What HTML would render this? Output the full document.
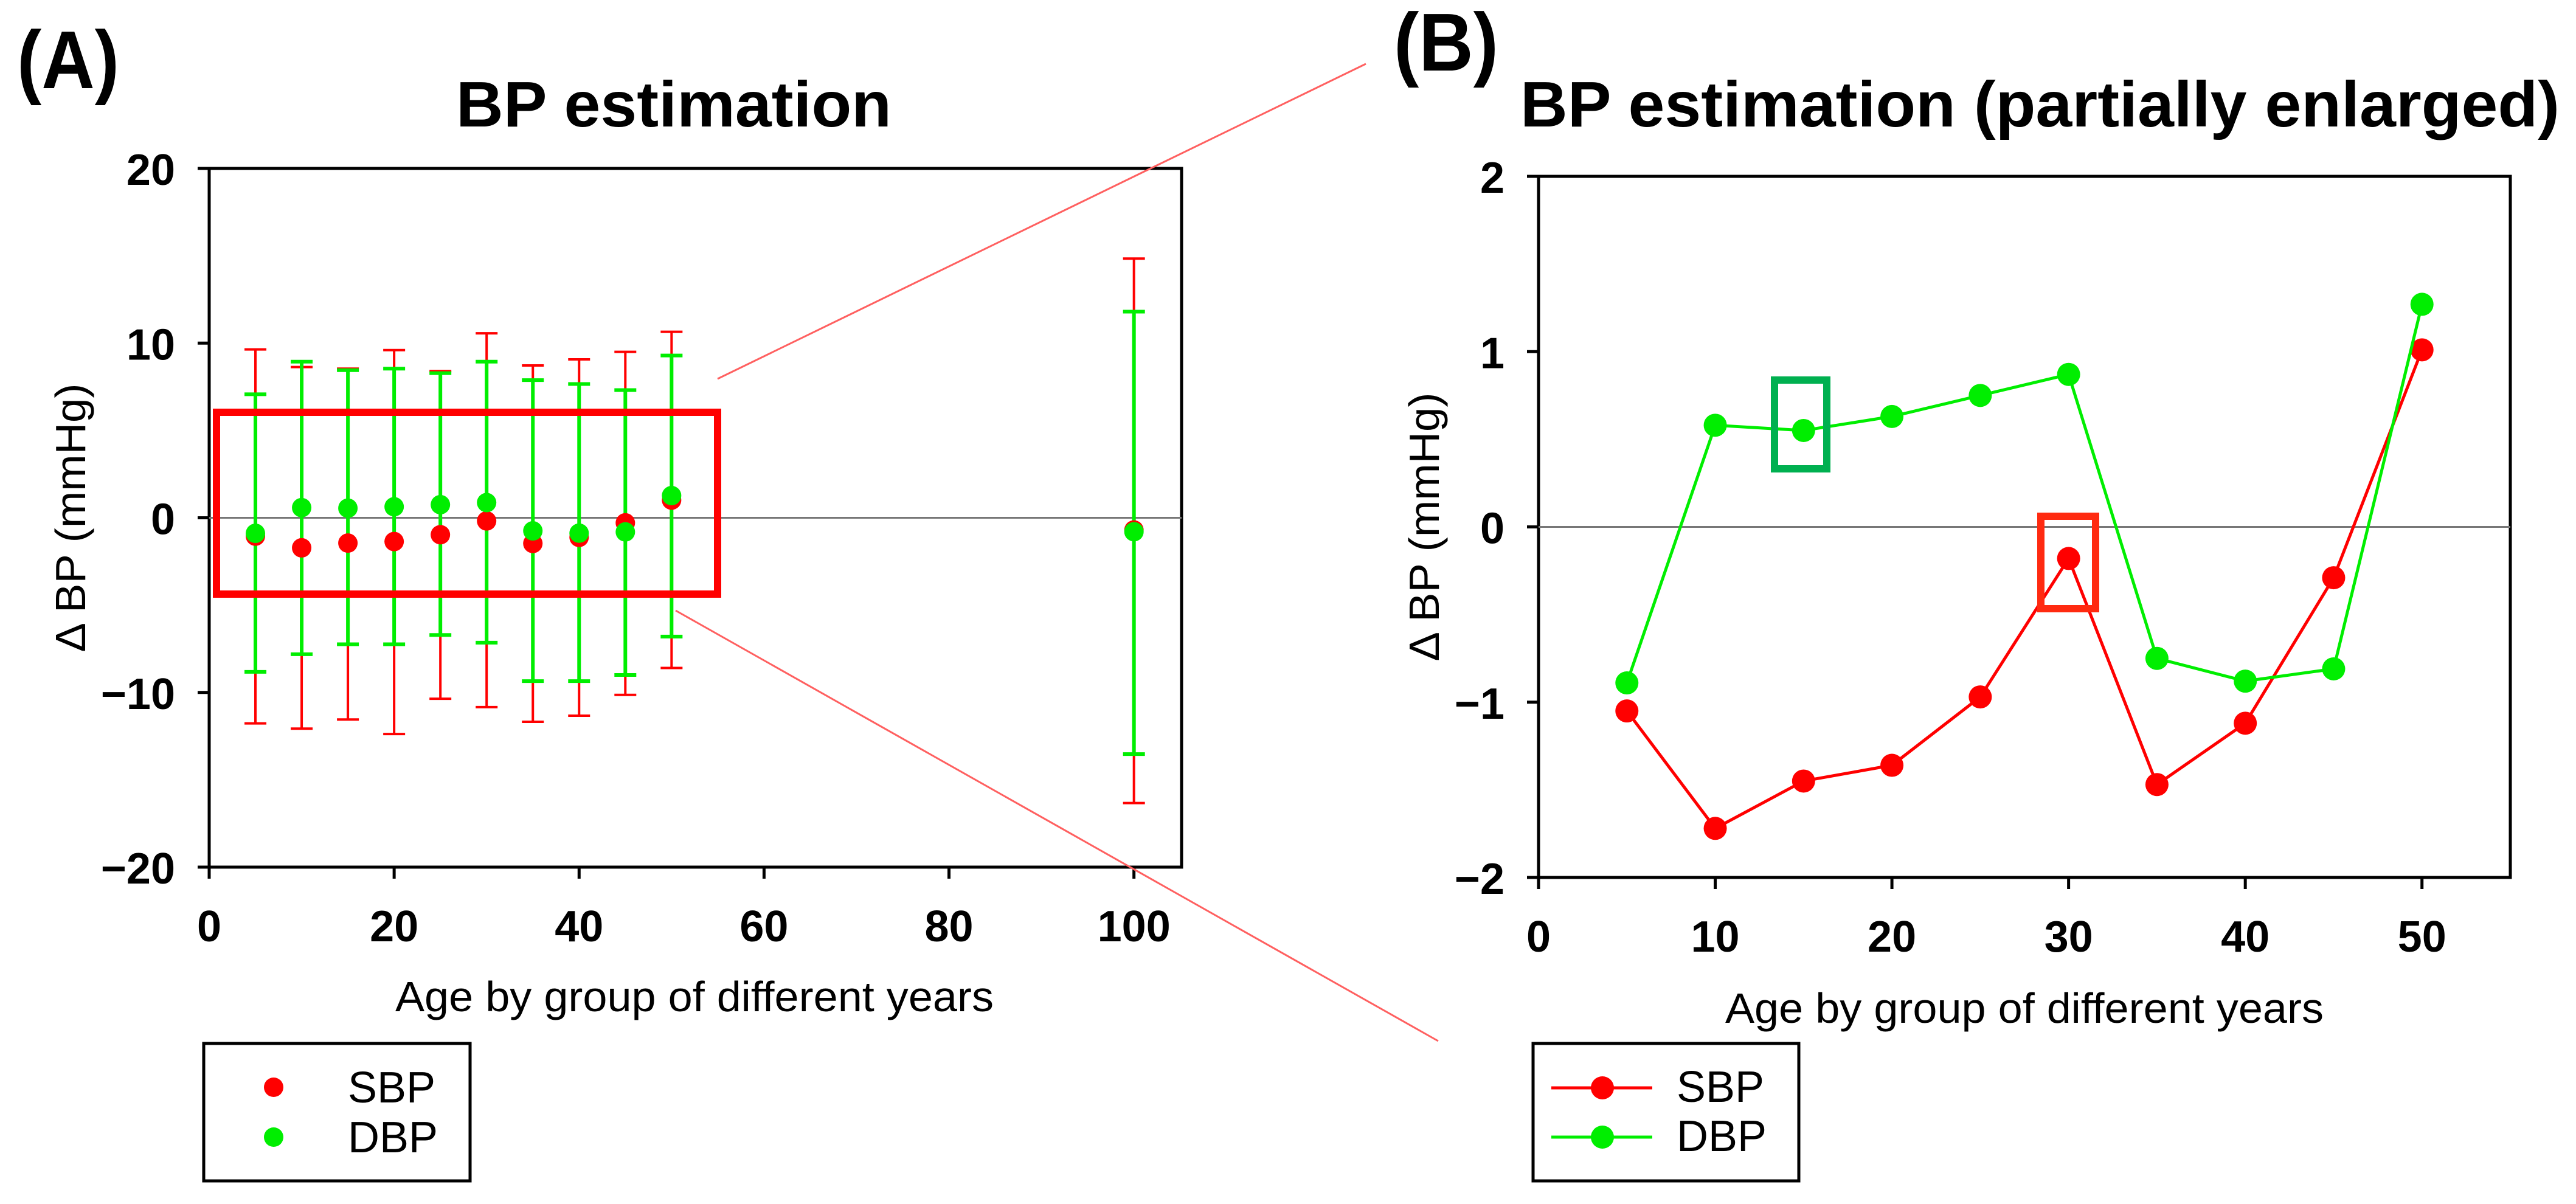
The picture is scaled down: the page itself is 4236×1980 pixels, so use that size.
<!DOCTYPE html>
<html><head><meta charset="utf-8"><style>
html,body{margin:0;padding:0;background:#fff;}
svg{display:block;font-family:"Liberation Sans",Arial,sans-serif;}
</style></head><body>
<svg id="fig" width="4236" height="1980" viewBox="0 0 4236 1980" xmlns="http://www.w3.org/2000/svg">
<g id="gA"></g>
<g id="gB"></g>
<g id="gX"></g>
</svg>
<script>
const ages = [5,10,15,20,25,30,35,40,45,50];
const agesA = [5,10,15,20,25,30,35,40,45,50,100];
const sbpMean = [-1.05,-1.72,-1.45,-1.36,-0.97,-0.18,-1.47,-1.12,-0.29,1.01];
const dbpMean = [-0.89,0.58,0.55,0.63,0.75,0.87,-0.75,-0.88,-0.81,1.27];
const sbpMean100 = -0.7;
const dbpMean100 = -0.8;
const sbpUpper = [9.64,8.63,8.54,9.6,8.4,10.56,8.72,9.07,9.5,10.65,14.84];
const sbpLower = [-11.77,-12.07,-11.55,-12.38,-10.36,-10.84,-11.68,-11.33,-10.14,-8.6,-16.33];
const dbpUpper = [7.07,8.94,8.45,8.54,8.28,8.94,7.88,7.66,7.31,9.29,11.8];
const dbpLower = [-8.82,-7.81,-7.24,-7.24,-6.71,-7.15,-9.35,-9.35,-9.0,-6.8,-13.53];
const xTicksA = [0,20,40,60,80,100];
const yTicksA = [20,10,0,-10,-20];
const xTicksB = [0,10,20,30,40,50];
const yTicksB = [2,1,0,-1,-2];

const NS="http://www.w3.org/2000/svg";
const RED="#ff0000", GREEN="#00ee00";
function mk(parent,tag,attrs,text){const e=document.createElementNS(NS,tag);for(const k in attrs)e.setAttribute(k,attrs[k]);if(text!==undefined)e.textContent=text;parent.appendChild(e);return e;}

// Panel A axes
const A={l:344,r:1943,t:277,b:1426,x0:0,x1:105.15,y0:-20,y1:20};
const B={l:2530,r:4128,t:290,b:1443,x0:0,x1:55.0,y0:-2,y1:2};
function sx(P,v){return P.l+(v-P.x0)/(P.x1-P.x0)*(P.r-P.l);}
function sy(P,v){return P.b-(v-P.y0)/(P.y1-P.y0)*(P.b-P.t);}

function frame(g,P,xt,yt,title,tx,tw,letter,lx,ly,lw,ytx,xtx,xty){
  let e;
  e=mk(g,'rect',{x:P.l,y:P.t,width:P.r-P.l,height:P.b-P.t,fill:'none',stroke:'#000','stroke-width':5});
  
  e=mk(g,'line',{x1:P.l,x2:P.r,y1:sy(P,0),y2:sy(P,0),stroke:'#777','stroke-width':3});
  
  xt.forEach(v=>{const x=sx(P,v);
    e=mk(g,'line',{x1:x,x2:x,y1:P.b,y2:P.b+19,stroke:'#000','stroke-width':5});
    
    e=mk(g,'text',{x:x,y:P.b+122,'text-anchor':'middle','font-size':72,'font-weight':'bold'},String(v));
    
  });
  yt.forEach(v=>{const y=sy(P,v);
    e=mk(g,'line',{x1:P.l-19,x2:P.l,y1:y,y2:y,stroke:'#000','stroke-width':5});
    
    e=mk(g,'text',{x:P.l-56,y:y+27,'text-anchor':'end','font-size':72,'font-weight':'bold'},(v<0?'\u2212':'')+Math.abs(v));
    
  });
  e=mk(g,'text',{x:tx,y:208,'font-size':106,'font-weight':'bold',textLength:tw,lengthAdjust:'spacingAndGlyphs'},title);
  
  e=mk(g,'text',{x:lx,y:ly,'font-size':135,'font-weight':'bold',textLength:lw,lengthAdjust:'spacingAndGlyphs'},letter);
  
  const cy=(P.t+P.b)/2;
  e=mk(g,'text',{x:0,y:0,'font-size':70,'text-anchor':'middle',transform:`translate(${ytx},${cy}) rotate(-90)`,textLength:442,lengthAdjust:'spacingAndGlyphs'},'\u0394 BP (mmHg)');
  
  e=mk(g,'text',{x:xtx,y:xty,'font-size':70,'text-anchor':'middle',textLength:984,lengthAdjust:'spacingAndGlyphs'},'Age by group of different years');
  
}

const gA=document.getElementById('gA'), gB=document.getElementById('gB'), gX=document.getElementById('gX');
frame(gA,A,xTicksA,yTicksA,'BP estimation',750,716,'(A)',28,145,168,140,1142,1663);
frame(gB,B,xTicksB,yTicksB,'BP estimation (partially enlarged)',2500,1709,'(B)',2292,116,172,2366,3329,1682);

// Panel A error bars and points
function errbar(g,x,lo,hi,color,w,name){
  let e=mk(g,'line',{x1:sx(A,x),x2:sx(A,x),y1:sy(A,lo),y2:sy(A,hi),stroke:color,'stroke-width':w});
  
  [lo,hi].forEach(v=>{e=mk(g,'line',{x1:sx(A,x)-18,x2:sx(A,x)+18,y1:sy(A,v),y2:sy(A,v),stroke:color,'stroke-width':w});
    });
}
const sbpA=sbpMean.concat([sbpMean100]), dbpA=dbpMean.concat([dbpMean100]);
agesA.forEach((a,i)=>errbar(gA,a,sbpLower[i],sbpUpper[i],RED,4,'sbp-error-bar'));
agesA.forEach((a,i)=>errbar(gA,a,dbpLower[i],dbpUpper[i],GREEN,6,'dbp-error-bar'));
agesA.forEach((a,i)=>{const e=mk(gA,'circle',{cx:sx(A,a),cy:sy(A,sbpA[i]),r:16,fill:RED});
  });
agesA.forEach((a,i)=>{const e=mk(gA,'circle',{cx:sx(A,a),cy:sy(A,dbpA[i]),r:16,fill:GREEN});
  });

// Panel B lines
function series(vals,color,name){
  const pts=ages.map((a,i)=>sx(B,a)+','+sy(B,vals[i])).join(' ');
  let e=mk(gB,'polyline',{points:pts,fill:'none',stroke:color,'stroke-width':5,'stroke-linejoin':'round'});
  
  ages.forEach((a,i)=>{e=mk(gB,'circle',{cx:sx(B,a),cy:sy(B,vals[i]),r:19,fill:color});
    });
}
series(sbpMean,RED,'sbp');
series(dbpMean,GREEN,'dbp');

// Annotations
let e;
e=mk(gX,'rect',{x:356,y:678,width:824,height:299,fill:'none',stroke:RED,'stroke-width':12});

e=mk(gX,'line',{x1:1180,y1:623,x2:2246,y2:105,stroke:'#ff6060','stroke-width':3});

e=mk(gX,'line',{x1:1111,y1:1004,x2:2365,y2:1712,stroke:'#ff6060','stroke-width':3});

e=mk(gX,'rect',{x:2918,y:625,width:86,height:146,fill:'none',stroke:'#00b050','stroke-width':12});

e=mk(gX,'rect',{x:3356,y:849,width:90,height:152,fill:'none',stroke:'#ff2a10','stroke-width':12});


// Legends
e=mk(gA,'rect',{x:335,y:1716,width:438,height:226,fill:'#fff',stroke:'#000','stroke-width':5});

e=mk(gA,'circle',{cx:450,cy:1788,r:16,fill:RED});
e=mk(gA,'circle',{cx:450,cy:1870,r:16,fill:GREEN});
e=mk(gA,'text',{x:572,y:1813,'font-size':72},'SBP');
e=mk(gA,'text',{x:572,y:1895,'font-size':72},'DBP');

e=mk(gB,'rect',{x:2521,y:1716,width:437,height:226,fill:'#fff',stroke:'#000','stroke-width':5});

e=mk(gB,'line',{x1:2551,x2:2717,y1:1789,y2:1789,stroke:RED,'stroke-width':5});
e=mk(gB,'circle',{cx:2635,cy:1789,r:19,fill:RED});
e=mk(gB,'line',{x1:2551,x2:2717,y1:1870,y2:1870,stroke:GREEN,'stroke-width':5});
e=mk(gB,'circle',{cx:2635,cy:1870,r:19,fill:GREEN});
e=mk(gB,'text',{x:2757,y:1812,'font-size':72},'SBP');
e=mk(gB,'text',{x:2757,y:1893,'font-size':72},'DBP');
</script>
</body></html>
